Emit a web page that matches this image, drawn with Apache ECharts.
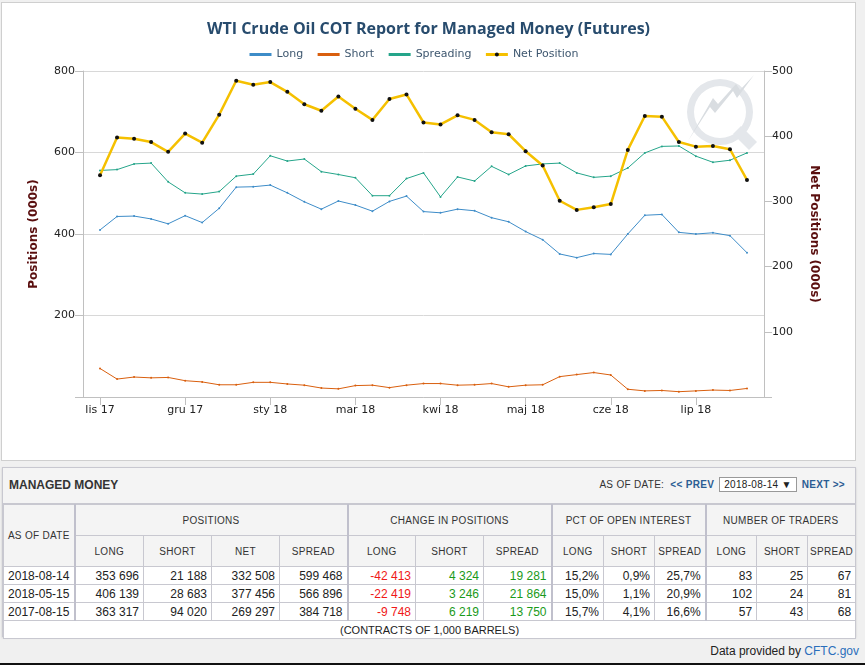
<!DOCTYPE html>
<html>
<head>
<meta charset="utf-8">
<script src="https://cdn.jsdelivr.net/npm/echarts@6/dist/echarts.min.js"></script>
<style>
  body { margin:0; background:#f0f0f0; font-family:"Liberation Sans", Arial, sans-serif; }
  .box { position:absolute; left:1px; top:2px; width:855px; height:459px; box-sizing:border-box; border:1px solid #cfcfcf; background:#fff; }
  .chart { position:absolute; left:0; top:0; width:853px; height:457px; }
  .panel { position:absolute; left:2px; top:467px; width:854px; height:170px; box-sizing:border-box; border:1px solid #c8c8d0; background:#f4f4f4; box-shadow:0 1px 2px rgba(0,0,0,0.15); }
  .head { height:35px; border-bottom:1px solid #c8c8d0; position:relative; }
  .head .ttl { position:absolute; left:6px; top:10px; font-size:12px; font-weight:bold; color:#333; }
  .head .nav { position:absolute; right:10px; top:9px; font-size:10px; color:#333; letter-spacing:0.3px; }
  .nav a { color:#2b5d93; font-weight:bold; text-decoration:none; }
  .nav .sel { display:inline-block; border:1px solid #999; background:#fff; padding:1px 4px; font-size:10px; color:#222; margin:0 2px; }
  table { border-collapse:collapse; table-layout:fixed; width:852px; font-size:12px; color:#222; }
  td, th { border:1px solid #c8c8d0; padding:0 4px; overflow:hidden; white-space:nowrap; }
  th { font-weight:normal; font-size:10px; color:#333; letter-spacing:0.3px; height:30px; background:#f4f4f4; padding:0 2px; }
  td { height:17px; text-align:right; background:#fff; }
  td.d { text-align:center; }
  .g { border-left:2px solid #c0c0cc; }
  .neg { color:#f01818; }
  .pos { color:#1a9a1a; }
  td.foot { text-align:center; font-size:11px; }
  .credit { position:absolute; right:6px; top:644px; font-size:12px; color:#222; }
  .credit a { color:#2a6ebb; text-decoration:none; }
  .edge { position:absolute; left:0; top:663px; width:865px; height:2px; background:#111; }
</style>
</head>
<body>
<div class="box"><div class="chart" id="chart"></div></div>

<div class="panel">
  <div class="head">
    <span class="ttl">MANAGED MONEY</span>
    <span class="nav">AS OF DATE:&nbsp; <a>&lt;&lt; PREV</a> <span class="sel">2018-08-14 &#9660;</span> <a>NEXT &gt;&gt;</a></span>
  </div>
  <table>
    <colgroup>
      <col style="width:71px"><col style="width:69px"><col style="width:68px"><col style="width:68px"><col style="width:68px">
      <col style="width:68px"><col style="width:68px"><col style="width:68px">
      <col style="width:52px"><col style="width:51px"><col style="width:51px">
      <col style="width:51px"><col style="width:51px"><col style="width:48px">
    </colgroup>
    <tr>
      <th rowspan="2">AS OF DATE</th>
      <th colspan="4" class="g">POSITIONS</th>
      <th colspan="3" class="g">CHANGE IN POSITIONS</th>
      <th colspan="3" class="g">PCT OF OPEN INTEREST</th>
      <th colspan="3" class="g">NUMBER OF TRADERS</th>
    </tr>
    <tr>
      <th class="g">LONG</th><th>SHORT</th><th>NET</th><th>SPREAD</th>
      <th class="g">LONG</th><th>SHORT</th><th>SPREAD</th>
      <th class="g">LONG</th><th>SHORT</th><th>SPREAD</th>
      <th class="g">LONG</th><th>SHORT</th><th>SPREAD</th>
    </tr>
    <tbody id="rows"></tbody>
    <tr><td colspan="14" class="foot">(CONTRACTS OF 1,000 BARRELS)</td></tr>
  </table>
</div>
<div class="credit">Data provided by <a>CFTC.gov</a></div>
<div class="edge"></div>

<script>
// weekly report dates
var dates = ['2017-11-21','2017-11-28','2017-12-05','2017-12-12','2017-12-19','2017-12-26',
  '2018-01-02','2018-01-09','2018-01-16','2018-01-23','2018-01-30',
  '2018-02-06','2018-02-13','2018-02-20','2018-02-27',
  '2018-03-06','2018-03-13','2018-03-20','2018-03-27',
  '2018-04-03','2018-04-10','2018-04-17','2018-04-24',
  '2018-05-01','2018-05-08','2018-05-15','2018-05-22','2018-05-29',
  '2018-06-05','2018-06-12','2018-06-19','2018-06-26',
  '2018-07-03','2018-07-10','2018-07-17','2018-07-24','2018-07-31',
  '2018-08-07','2018-08-14']

// positions (000s)
var longPos = [410, 443, 444, 437, 425, 445, 428, 463, 515, 516, 520, 501, 479, 461, 481, 471, 456, 480, 493, 455,
  452, 461, 457, 440, 430, 406, 386, 351, 342, 352, 350, 400, 446, 448, 404, 400, 403, 396, 354]
var shortPos = [70, 44, 49, 47, 48, 40, 37, 30, 30, 36, 36, 32, 29, 22, 20, 28, 29, 23, 29, 33,
  33, 29, 30, 33, 25, 29, 30, 50, 55, 60, 54, 19, 15, 16, 13, 15, 17, 16, 21]
var spreading = [556, 558, 572, 574, 528, 501, 498, 504, 542, 547, 592, 579, 584, 553, 546, 538, 494, 494, 536, 550,
  491, 540, 530, 566, 546, 567, 572, 574, 550, 539, 542, 562, 599, 615, 616, 591, 576, 581, 599]
var netPos = [340, 398, 396, 391, 376, 404, 390, 433, 485, 479, 483, 468, 449, 439, 461, 442, 425, 457, 464, 421,
  418, 432, 425, 406, 403, 377, 355, 301, 287, 291, 296, 379, 431, 430, 391, 384, 385, 380, 333]

var leftTicks = [0, 800, 200]   // min, max, step
var rightTicks = [0, 500, 100]
var monthsPl = ['sty','lut','mar','kwi','maj','cze','lip','sie','wrz','paź','lis','gru']

// table rows
var tableRows = [
  ['2018-08-14','353 696','21 188','332 508','599 468','-42 413','4 324','19 281','15,2%','0,9%','25,7%','83','25','67'],
  ['2018-05-15','406 139','28 683','377 456','566 896','-22 419','3 246','21 864','15,0%','1,1%','20,9%','102','24','81'],
  ['2017-08-15','363 317','94 020','269 297','384 718','-9 748','6 219','13 750','15,7%','4,1%','16,6%','57','43','68']
]

var html = ''
tableRows.forEach(function (r) {
  html += '<tr>'
  r.forEach(function (v, i) {
    var cls = i === 0 ? 'd' : ''
    if (i === 1 || i === 5 || i === 8 || i === 11) cls += ' g'
    if (i >= 5 && i <= 7) cls += v.charAt(0) === '-' ? ' neg' : ' pos'
    html += '<td class="' + cls + '">' + v + '</td>'
  })
  html += '</tr>'
})
document.getElementById('rows').innerHTML = html

// pad one empty slot at both ends so the first/last weeks sit off the axes
var cats = [''].concat(dates, [''])
function pad(arr) { return [null].concat(arr, [null]) }
function showLabel(index, value) { return value !== '' && (index - 1) % 5 === 0 }

var myCharts = echarts.init(document.getElementById('chart'))
var axisGray = '#c0c0c0'
var font = 'DejaVu Sans'

var option = {
  animation: false,
  title: {
    text: 'WTI Crude Oil COT Report for Managed Money (Futures)',
    left: 'center',
    top: 13,
    textStyle: { color: '#274b6d', fontSize: 16, fontWeight: 'bold', fontFamily: 'Open Sans' }
  },
  legend: {
    top: 41,
    left: 241,
    itemWidth: 22,
    itemHeight: 5,
    itemGap: 13,
    lineStyle: { width: 3 },
    textStyle: { color: '#3e576f', fontSize: 11, fontFamily: font },
    data: [
      { name: 'Long', itemStyle: { opacity: 0 } },
      { name: 'Short', itemStyle: { opacity: 0 } },
      { name: 'Spreading', itemStyle: { opacity: 0 } },
      { name: 'Net Position' }
    ]
  },
  grid: { left: 81, right: 91, top: 68, bottom: 63 },
  graphic: [
    { type: 'ring', silent: true, z: -1, shape: { cx: 718, cy: 109, r: 33, r0: 26 }, style: { fill: '#e4e7eb' } },
    { type: 'polygon', silent: true, z: -1, shape: { points: [[731, 131], [739, 123], [755, 139], [747, 147]] }, style: { fill: '#e4e7eb' } },
    { type: 'polygon', silent: true, z: -1,
      shape: { points: [[686, 138], [708, 104], [713, 110], [731, 88], [735, 95], [752, 72], [738, 87], [734, 81], [716, 101], [711, 95]] },
      style: { fill: '#d9dde1' } }
  ],
  xAxis: {
    type: 'category',
    boundaryGap: false,
    data: cats,
    axisLine: { lineStyle: { color: axisGray } },
    axisTick: { interval: showLabel, length: 8, lineStyle: { color: axisGray } },
    axisLabel: {
      interval: showLabel,
      color: '#222',
      fontSize: 11,
      fontFamily: font,
      margin: 8,
      formatter: function (v) {
        if (!v) return ''
        var p = v.split('-')
        return monthsPl[parseInt(p[1], 10) - 1] + ' ' + p[0].slice(2)
      }
    },
    splitLine: { show: false }
  },
  yAxis: [
    {
      type: 'value',
      min: leftTicks[0], max: leftTicks[1], interval: leftTicks[2],
      name: 'Positions (000s)',
      nameLocation: 'middle',
      nameGap: 43,
      nameTextStyle: { color: '#5a0f0f', fontWeight: 'bold', fontSize: 12, fontFamily: font },
      axisLine: { show: true, lineStyle: { color: axisGray } },
      axisTick: { show: true, length: 8, lineStyle: { color: axisGray } },
      axisLabel: { color: '#222', fontSize: 11, fontFamily: font, formatter: function (v) { return v === 0 ? '' : v } },
      splitLine: { lineStyle: { color: '#d8d8d8' } }
    },
    {
      type: 'value',
      min: rightTicks[0], max: rightTicks[1], interval: rightTicks[2],
      name: 'Net Positions (000s)',
      nameLocation: 'middle',
      nameRotate: -90,
      nameGap: 44,
      nameTextStyle: { color: '#5a0f0f', fontWeight: 'bold', fontSize: 12, fontFamily: font },
      axisLine: { show: true, lineStyle: { color: axisGray } },
      axisTick: { show: true, length: 8, lineStyle: { color: axisGray } },
      axisLabel: { color: '#222', fontSize: 11, fontFamily: font, formatter: function (v) { return v === 0 ? '' : v } },
      splitLine: { show: false }
    }
  ],
  series: [
    {
      name: 'Long', type: 'line', data: pad(longPos), yAxisIndex: 0,
      symbol: 'circle', symbolSize: 2,
      itemStyle: { color: '#3d8cc8' }, lineStyle: { color: '#3d8cc8', width: 1 }
    },
    {
      name: 'Short', type: 'line', data: pad(shortPos), yAxisIndex: 0,
      symbol: 'circle', symbolSize: 2,
      itemStyle: { color: '#d95f0e' }, lineStyle: { color: '#d95f0e', width: 1 }
    },
    {
      name: 'Spreading', type: 'line', data: pad(spreading), yAxisIndex: 0,
      symbol: 'circle', symbolSize: 2,
      itemStyle: { color: '#25a58a' }, lineStyle: { color: '#25a58a', width: 1 }
    },
    {
      name: 'Net Position', type: 'line', data: pad(netPos), yAxisIndex: 1,
      symbol: 'circle', symbolSize: 4, z: 5,
      itemStyle: { color: '#111' }, lineStyle: { color: '#f5c000', width: 2.5 }
    }
  ]
}

myCharts.setOption(option)

window.addEventListener('resize', function () {
  myCharts.resize()
})
</script>
</body>
</html>
